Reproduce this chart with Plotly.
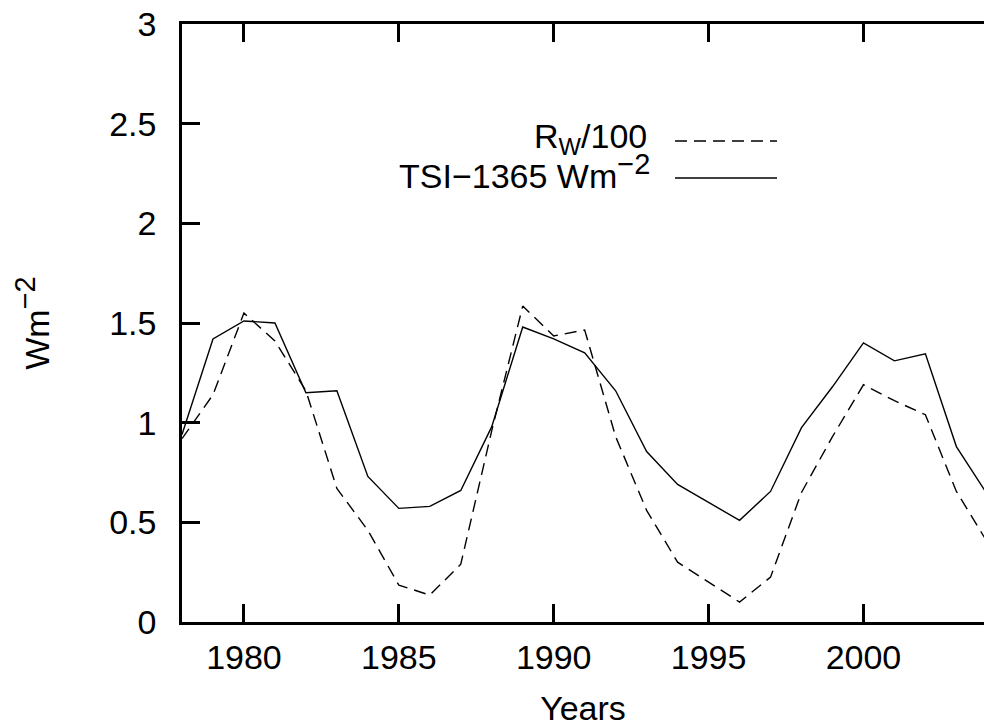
import plotly.graph_objects as go

years = list(range(1978, 2005))
tsi = [0.94, 1.42, 1.51, 1.50, 1.15, 1.16, 0.73, 0.57, 0.58, 0.66, 0.98, 1.48, 1.42,
       1.35, 1.16, 0.855, 0.69, 0.60, 0.51, 0.655, 0.975, 1.18, 1.40, 1.31, 1.345, 0.88, 0.64]
rw100 = [0.92, 1.14, 1.55, 1.41, 1.16, 0.67, 0.46, 0.185, 0.135, 0.29, 0.96, 1.585, 1.435,
         1.465, 0.93, 0.56, 0.30, 0.20, 0.10, 0.225, 0.65, 0.93, 1.19, 1.11, 1.04, 0.655, 0.40]
x_ticks = [1980, 1985, 1990, 1995, 2000]
y_ticks = [0, 0.5, 1, 1.5, 2, 2.5, 3]
y_tick_text = ["0", "0.5", "1", "1.5", "2", "2.5", "3"]
label_rw = "R<sub>W</sub>/100"
label_tsi = "TSI\u22121365 Wm<sup><span style='font-size:29px'>\u22122</span></sup>"
y_title = "Wm<sup><span style='font-size:29px'>\u22122</span></sup>"

FONT = "Liberation Sans, Arial, Helvetica, sans-serif"
FS = 34

fig = go.Figure()
fig.add_trace(go.Scatter(x=years, y=rw100, mode="lines", name="Rw/100",
                         line=dict(color="black", width=1.4, dash="12px,7px")))
fig.add_trace(go.Scatter(x=years, y=tsi, mode="lines", name="TSI-1365",
                         line=dict(color="black", width=1.4)))

L, T, R, B = 182, 24, 0, 105
W, H = 984, 727
pw = W - L - R
ph = H - T - B

def px_x(p):
    return (p - L) / pw

def px_y(p):
    return (H - B - p) / ph

fig.update_layout(
    width=W, height=H,
    margin=dict(l=L, r=R, t=T, b=B, pad=0),
    paper_bgcolor="white", plot_bgcolor="white",
    showlegend=False,
    font=dict(family=FONT, size=FS, color="black"),
    xaxis=dict(range=[1978, 1978 + pw / 30.975], tickvals=x_ticks,
               ticks="inside", ticklen=18, tickwidth=2.5, tickcolor="black",
               showline=True, linewidth=2.5, linecolor="black", mirror="ticks",
               showgrid=False, zeroline=False, ticklabelstandoff=3,
               title=dict(text="Years", standoff=27, font=dict(size=FS))),
    yaxis=dict(range=[0, 3], tickvals=y_ticks, ticktext=y_tick_text,
               ticks="inside", ticklen=18, tickwidth=2.5, tickcolor="black",
               showline=True, linewidth=2.5, linecolor="black", mirror=False,
               showgrid=False, zeroline=False, ticklabelstandoff=16,
               title=dict(text=y_title, standoff=50, font=dict(size=FS))),
    yaxis2=dict(range=[0, 3], tickvals=y_ticks, overlaying="y", side="right",
                ticks="inside", ticklen=18, tickwidth=2.5, tickcolor="black",
                showline=False, showticklabels=False, showgrid=False, zeroline=False),
)

# gnuplot-style key: text on the left, sample on the right
fig.add_annotation(text=label_rw, xref="paper", yref="paper", x=px_x(649), y=px_y(138),
                   xanchor="right", yanchor="middle", showarrow=False, font=dict(size=FS))
fig.add_annotation(text=label_tsi, xref="paper", yref="paper", x=px_x(652), y=px_y(172),
                   xanchor="right", yanchor="middle", showarrow=False, font=dict(size=FS))
fig.add_shape(type="line", xref="paper", yref="paper", x0=px_x(675), x1=px_x(777),
              y0=px_y(141), y1=px_y(141), line=dict(color="black", width=1.4, dash="12px,7px"))
fig.add_shape(type="line", xref="paper", yref="paper", x0=px_x(675), x1=px_x(777),
              y0=px_y(178), y1=px_y(178), line=dict(color="black", width=1.4))

fig.write_html("out.html", config={"displayModeBar": False},
               post_script="document.body.style.margin='0';document.body.style.overflow='hidden';")
